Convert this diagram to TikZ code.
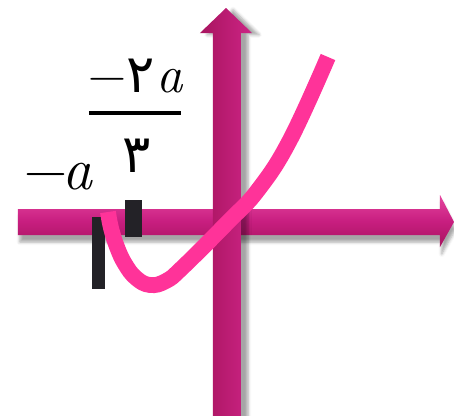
\documentclass[tikz,border=0pt]{standalone}
\usepackage{fontspec}
\newfontfamily\arabicfont[Script=Arabic,Scale=1.0]{DejaVu Sans}
\usetikzlibrary{shadows.blur}
\definecolor{axisdark}{HTML}{A8145F}
\definecolor{axismid}{HTML}{C81E80}
\definecolor{axislight}{HTML}{E5469F}
\definecolor{curvepink}{HTML}{FF3399}
\definecolor{tickgray}{HTML}{232227}
\tikzset{
    haxis/.style={top color=axislight, bottom color=axisdark, middle color=axismid,
        blur shadow={shadow xshift=1pt, shadow yshift=-4pt, shadow opacity=35}},
    vaxis/.style={left color=axisdark, right color=axismid!85!axislight,
        blur shadow={shadow xshift=4pt, shadow yshift=-1pt, shadow opacity=35}},
    tickmark/.style={fill=tickgray},
    curveline/.style={draw=curvepink, line width=9pt},
    lbl/.style={inner sep=0pt, anchor=base}
}
\begin{document}
\begin{tikzpicture}
    \useasboundingbox (-4.56,-3.86) rectangle (4.52,4.44);
    % horizontal axis
    \path[haxis] (-4.2,-0.26) -- (4.24,-0.26) -- (4.24,-0.5) -- (4.52,0)
        -- (4.24,0.54) -- (4.24,0.26) -- (-4.2,0.26) -- cycle;
    % ticks
    \fill[tickmark] (-2.72,-1.34) rectangle (-2.46,0.1);
    \fill[tickmark] (-2.06,-0.3) rectangle (-1.72,0.44);
    % vertical axis
    \path[vaxis] (-0.3,-3.9) -- (-0.3,3.78) -- (-0.56,3.78) -- (-0.04,4.28)
        -- (0.48,3.78) -- (0.26,3.78) -- (0.26,-3.9) -- cycle;
    % curve
    \draw[curveline] plot[smooth, tension=0.7] coordinates {(-2.4,0.2) (-2.34,-0.12)
        (-2.22,-0.5) (-2.06,-0.84) (-1.84,-1.12) (-1.56,-1.26) (-1.24,-1.18)
        (-0.9,-0.9) (0,0) (0.6,0.64) (1.24,1.64) (2.0,3.3)};
    % labels
    \node[lbl, font=\fontsize{34}{40}\selectfont] (minusa) at (-3.38,0.66)
        {−\kern-3pt\textit{a}};
    \node[lbl, font=\fontsize{30}{36}\selectfont] (num) at (-1.84,2.6)
        {−{\arabicfont ٢}\kern1pt\textit{a}};
    \node[lbl, font=\fontsize{30}{36}\selectfont] (den) at (-1.82,1.0)
        {\arabicfont ٣};
    \coordinate (barl) at (-2.78,2.18);
    \coordinate (barr) at (-0.94,2.18);
    \draw[line width=1.8pt] (barl) -- (barr);
\end{tikzpicture}
\end{document}
